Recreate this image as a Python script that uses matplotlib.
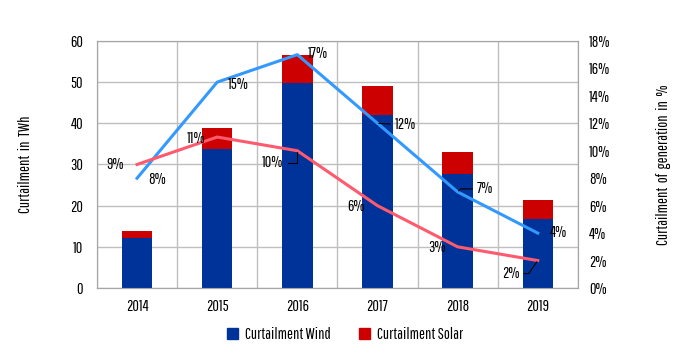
import matplotlib
matplotlib.use("Agg")
import matplotlib.pyplot as plt
import numpy as np
from matplotlib.patches import Patch

plt.rcParams['font.family'] = ['Pathway Gothic One', 'DejaVu Sans']

years = ["2014", "2015", "2016", "2017", "2018", "2019"]
wind = [12.2, 33.7, 49.8, 42.0, 27.7, 16.7]
solar = [1.6, 5.2, 6.8, 7.0, 5.4, 4.7]
wind_pct = [8, 15, 17, 12, 7, 4]
solar_pct = [9, 11, 10, 6, 3, 2]

FS = 11.5
fig = plt.figure(figsize=(6.83, 3.56), dpi=100)
ax = fig.add_axes([0.142, 0.191, 0.704, 0.694])
x = np.arange(len(years))
c_wind = "#003399"
c_solar = "#CC0000"
ax.bar(x, wind, width=0.38, color=c_wind, zorder=3, label="Curtailment Wind")
ax.bar(x, solar, width=0.38, bottom=wind, color=c_solar, zorder=3, label="Curtailment Solar")
ax.set_xlim(-0.5, len(years) - 0.5)
ax.set_ylim(0, 60)
ax.set_yticks(range(0, 61, 10))
ax.set_xticks(x)
ax.set_xticklabels(years)
ax.set_xticks(np.arange(-0.5, len(years)), minor=True)
ax.grid(axis='x', which='minor', color='#BFBFBF', lw=1, zorder=0)
ax.grid(axis='y', which='major', color='#BFBFBF', lw=1, zorder=0)
ax.tick_params(which='both', length=0, labelsize=FS)
ax.tick_params(axis='x', pad=8)
ax.tick_params(axis='y', pad=10)
for s in ax.spines.values():
    s.set_color('#A6A6A6')
ax.set_ylabel("Curtailment  in  TWh", fontsize=FS, labelpad=27)

ax2 = ax.twinx()
ax2.set_ylim(0, 18)
ax2.set_yticks(range(0, 19, 2))
ax2.set_yticklabels([f"{v}%" for v in range(0, 19, 2)])
ax2.tick_params(length=0, labelsize=FS, pad=8)
for s in ax2.spines.values():
    s.set_color('#A6A6A6')
ax2.plot(x, wind_pct, color="#3399FF", lw=2.2, zorder=5)
ax2.plot(x, solar_pct, color="#FF5A6E", lw=2.2, zorder=5)
ax2.set_ylabel("Curtailment  of  generation  in  %", fontsize=FS, labelpad=33)

# annotations: (dx px, dy px (down positive), ha, leader, angleB)
lbl_w = [(11, 1, 'left', False, None), (11, 2, 'left', False, None), (11, -1, 'left', False, None),
         (17, 1.5, 'left', True, None), (19, -3, 'left', True, 45), (12, -1, 'left', False, None)]
lbl_s = [(-13, 0.5, 'right', False, None), (-12, 1, 'right', False, None), (-14, 12, 'right', True, 90),
         (-13, 1, 'right', False, None), (-12, 1, 'right', False, None), (-18, 13, 'right', True, 55)]
k = 0.72
for vals, lbls in ((wind_pct, lbl_w), (solar_pct, lbl_s)):
    for i in range(len(years)):
        dx, dy, ha, lead, angB = lbls[i]
        cs = 'arc3,rad=0' if angB is None else f'angle,angleA=0,angleB={angB},rad=0'
        ax2.annotate(f"{vals[i]}%", (x[i], vals[i]), xytext=(dx * k, -dy * k), textcoords='offset points',
                     ha=ha, va='center', fontsize=FS, zorder=6,
                     arrowprops=dict(arrowstyle='-', lw=0.8, color='black', shrinkA=1, shrinkB=1,
                                     connectionstyle=cs) if lead else None)

handles = [Patch(color=c_wind, label="Curtailment Wind"), Patch(color=c_solar, label="Curtailment Solar")]
fig.legend(handles=handles, loc='center', bbox_to_anchor=(0.505, 0.06), ncol=2, frameon=False,
           fontsize=FS, handlelength=0.7, handleheight=0.7, columnspacing=1.8, handletextpad=0.4)

fig.savefig("out.png", dpi=100)
